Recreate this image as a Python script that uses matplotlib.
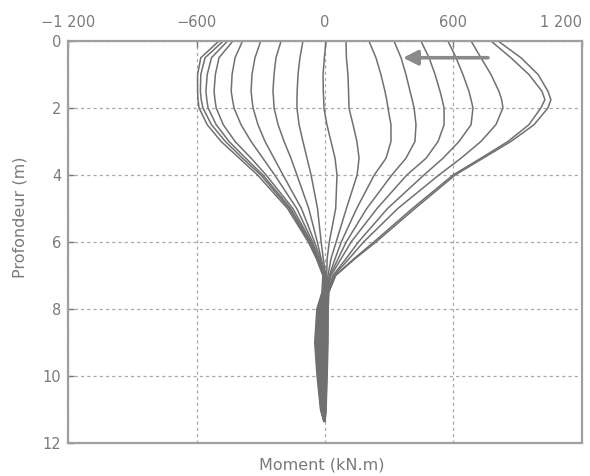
import matplotlib
matplotlib.use('Agg')
import matplotlib.pyplot as plt

# profondeurs communes à tous les profils (m)
depth = [0, 0.5, 1.0, 1.5, 1.75, 2.0, 2.5, 3.0, 3.5, 4.0,
         5.0, 6.0, 6.5, 7.0, 7.5, 8.0, 9.0, 10.0, 11.0, 11.35]

# moments fléchissants (kN.m), un profil par phase de chargement
moments = [
    [-495, -580, -595, -595, -593, -588, -550, -485, -400, -315, -175, -78, -40, -10, -14, -38, -48, -37, -21, -6],
    [-475, -560, -580, -582, -578, -570, -530, -465, -385, -300, -167, -73, -37, -8, -12, -35, -45, -34, -19, -5],
    [-455, -530, -550, -556, -552, -546, -508, -448, -370, -290, -160, -69, -35, -6, -10, -32, -41, -31, -17, -5],
    [-430, -495, -512, -518, -514, -508, -475, -420, -345, -275, -150, -64, -32, -4, -8, -29, -37, -28, -15, -4],
    [-385, -420, -434, -438, -432, -425, -392, -345, -290, -235, -132, -58, -28, -2, -6, -26, -33, -25, -13, -4],
    [-300, -327, -341, -345, -341, -336, -313, -280, -238, -196, -110, -49, -22, 0, -4, -22, -29, -22, -11, -3],
    [-205, -229, -238, -243, -240, -238, -219, -191, -159, -131, -76, -36, -18, 2, -2, -19, -25, -19, -9, -3],
    [-103, -117, -126, -130, -131, -131, -121, -103, -84, -65, -35, -18, -8, 4, 0, -15, -21, -16, -7, -2],
    [5, -3, -9, -8, -6, -5, 9, 28, 47, 56, 50, 20, 10, 8, 2, -11, -17, -13, -5, -2],
    [98, 100, 107, 110, 111, 112, 131, 149, 159, 150, 100, 52, 28, 14, 4, -7, -13, -10, -4, -1],
    [205, 238, 261, 280, 288, 294, 308, 308, 285, 230, 148, 76, 47, 20, 6, -4, -9, -7, -3, -1],
    [322, 355, 378, 397, 407, 416, 425, 420, 378, 312, 195, 99, 61, 24, 8, -1, -5, -4, -1, 0],
    [448, 486, 514, 537, 547, 556, 556, 528, 472, 382, 243, 122, 75, 28, 10, 3, -1, -1, 0, 0],
    [574, 612, 644, 672, 682, 691, 682, 626, 551, 462, 292, 156, 98, 37, 12, 6, 3, 2, 2, 0],
    [682, 728, 775, 812, 825, 831, 798, 728, 635, 532, 340, 180, 112, 42, 14, 9, 7, 5, 3, 0],
    [775, 868, 952, 1013, 1027, 1008, 952, 854, 728, 598, 408, 228, 135, 48, 16, 12, 11, 8, 4, 0],
    [808, 915, 995, 1041, 1055, 1041, 976, 868, 738, 608, 420, 238, 140, 50, 18, 15, 14, 10, 5, 0],
]

x_ticks = [-1200, -600, 0, 600, 1200]
x_labels = ['\u22121 200', '\u2212600', '0', '600', '1 200']
y_ticks = [0, 2, 4, 6, 8, 10, 12]

# flèche indiquant le sens de chargement
arrow_tail = (761, 0.5)
arrow_head = (364, 0.5)

grey_txt = '#7a7a7a'
grey_axis = '#9f9f9f'

fig = plt.figure(figsize=(5.9, 4.76), dpi=100)
ax = fig.add_axes([0.1153, 0.0693, 0.8711, 0.8446])

for m in moments:
    ax.plot(m, depth, color='#707070', lw=1.1, solid_joinstyle='round')

ax.annotate('', xy=arrow_head, xytext=arrow_tail,
            arrowprops=dict(arrowstyle='-|>', color='#8a8a8a', lw=2.6,
                            mutation_scale=22, shrinkA=0, shrinkB=0))

ax.set_xlim(-1200, 1200)
ax.set_ylim(12, 0)
ax.xaxis.tick_top()
ax.set_xticks(x_ticks)
ax.set_xticklabels(x_labels)
ax.set_yticks(y_ticks)
ax.tick_params(axis='both', colors=grey_txt, labelsize=10.5, length=4,
               direction='in', width=1)
ax.tick_params(axis='x', pad=8)
ax.tick_params(axis='y', pad=5)
ax.get_xticklabels()[-1].set_horizontalalignment('right')

ax.grid(True, color='#a8a8a8', linestyle=(0, (2.5, 2.5)), lw=0.9)
for s in ax.spines.values():
    s.set_color(grey_axis)
    s.set_linewidth(1.6)

ax.set_ylabel('Profondeur (m)', color=grey_txt, fontsize=11.5)
ax.yaxis.set_label_coords(-0.078, 0.562)
ax.set_xlabel('Moment (kN.m)', color=grey_txt, fontsize=11.5)
ax.xaxis.set_label_position('bottom')
ax.xaxis.set_label_coords(0.494, -0.035)

fig.savefig('out.png', dpi=100)
